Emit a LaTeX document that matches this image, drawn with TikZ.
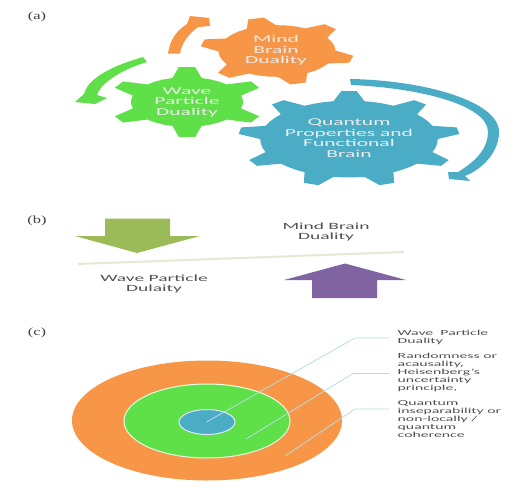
\documentclass[tikz,border=0pt]{standalone}
\usepackage{fontspec}
\setmainfont{Carlito}[FakeStretch=2.05]
\newfontfamily\tagfont{Liberation Serif}[FakeStretch=1.5]
\definecolor{gorange}{HTML}{F79646}
\definecolor{ggreen}{HTML}{5FDF48}
\definecolor{gblue}{HTML}{4BACC6}
\definecolor{aolive}{HTML}{9BBB59}
\definecolor{apurple}{HTML}{8064A2}
\definecolor{bar}{HTML}{E2EBD2}
\definecolor{leader}{HTML}{B9DCE4}
\definecolor{tgrey}{HTML}{505050}
\newcommand{\tightlines}{\lineskiplimit -20pt\relax}
\newcommand{\gear}[8]{% colour,cx,cy,rxo,ryo,rootfrac,teeth,rot
 \pgfmathsetmacro{\st}{360/#7}
 \pgfmathsetmacro{\rxi}{#4*#6}\pgfmathsetmacro{\ryi}{#5*#6}
 \fill[#1] ({#2+\rxi*cos(#8-0.25*\st)},{#3-\ryi*sin(#8-0.25*\st)})
 foreach \k in {1,...,#7}{
  -- ({#2+#4*cos(#8+(\k-1)*\st-0.1*\st)},{#3-#5*sin(#8+(\k-1)*\st-0.1*\st)})
  -- ({#2+#4*cos(#8+(\k-1)*\st+0.1*\st)},{#3-#5*sin(#8+(\k-1)*\st+0.1*\st)})
  -- ({#2+\rxi*cos(#8+(\k-1)*\st+0.25*\st)},{#3-\ryi*sin(#8+(\k-1)*\st+0.25*\st)})
  -- ({#2+\rxi*cos(#8+(\k-1)*\st+0.42*\st)},{#3-\ryi*sin(#8+(\k-1)*\st+0.42*\st)})
  -- ({#2+\rxi*cos(#8+(\k-1)*\st+0.58*\st)},{#3-\ryi*sin(#8+(\k-1)*\st+0.58*\st)})
  -- ({#2+\rxi*cos(#8+\k*\st-0.25*\st)},{#3-\ryi*sin(#8+\k*\st-0.25*\st)})
 } -- cycle;
}
\tikzset{
 gearlabel/.style={text=white!85!gray,align=center,inner sep=0pt,font=\fontsize{10.5}{10.5}\selectfont\tightlines},
 tag/.style={text=black!75,inner sep=0pt,font=\tagfont\fontsize{11}{11}\selectfont},
 blab/.style={text=tgrey,align=center,inner sep=0pt,font=\fontsize{9.5}{10}\selectfont\tightlines},
 clab/.style={text=tgrey,align=left,anchor=north west,inner sep=0pt,font=\fontsize{7.7}{8}\selectfont\tightlines},
 leadline/.style={draw=leader,line width=.8pt}
}
\begin{document}
\begin{tikzpicture}[x=1pt,y=-1pt]
\useasboundingbox (0,0) rectangle (531,490);
% (a) arrows
\fill[gorange] (168,53.5) .. controls (170,40) and (176,31) .. (187,24) -- (190,16) -- (209,18) -- (210,26) -- (198,27) .. controls (189,34) and (182,42) .. (180,53.5) -- cycle;
\fill[ggreen] (143,57) .. controls (112,66) and (88,78) .. (84,94) -- (75,102) -- (95,104) -- (107,98) -- (97,95) .. controls (100,84) and (120,70) .. (147,62) -- cycle;
\fill[gblue] (350,79) .. controls (420,80) and (499,100) .. (499,132) .. controls (499,150) and (485,168) .. (465,176) -- (470,181) -- (449,179) -- (448,172) -- (458,172) .. controls (478,160) and (488,147) .. (488,132) .. controls (488,105) and (420,88) .. (351,85) -- cycle;
% gears
\gear{gorange}{277}{51}{77}{34}{0.76}{6}{106}
\gear{ggreen}{187}{102}{79}{35}{0.71}{6}{90}
\gear{gblue}{349}{139}{111}{48}{0.8}{9}{90}
\node[gearlabel] (mind) at (276,50.5) {Mind\\Brain\\Duality};
\node[gearlabel] (wave) at (187,102) {Wave\\Particle\\Duality};
\node[gearlabel] (quant) at (349,138) {Quantum\\Properties and\\Functional\\Brain};
\node[tag] (ta) at (37,17) {(a)};
\node[tag] (tb) at (37,221) {(b)};
\node[tag] (tc) at (37,333) {(c)};
% (b)
\fill[aolive] (105,218.5) -- (170,218.5) -- (170,236) -- (200,236) -- (137,253) -- (75,236) -- (105,236) -- cycle;
\fill[apurple] (312,298) -- (377,298) -- (377,280) -- (406,280) -- (345,263.5) -- (284,280) -- (312,280) -- cycle;
\draw[bar,line width=2pt] (78,264) -- (404,252);
\node[blab] (mb) at (326,232) {Mind Brain\\Duality};
\node[blab] (wp) at (154,284) {Wave Particle\\Dulaity};
% (c)
\fill[gorange] (207,420.5) ellipse [x radius=135, y radius=60];
\fill[ggreen,draw=white!90!green,line width=1pt] (207,421) ellipse [x radius=83, y radius=37];
\fill[gblue,draw=white!90!blue,line width=1pt] (207,422) ellipse [x radius=28, y radius=12.5];
\coordinate (p1) at (206.5,422);
\coordinate (p2) at (246,439);
\coordinate (p3) at (285,456);
\coordinate (k1) at (355,338);
\coordinate (k2) at (353,373.5);
\coordinate (k3) at (355,409);
\coordinate (e1) at (389,338);
\coordinate (e2) at (389,373.5);
\coordinate (e3) at (389,409);
\draw[leadline] (p1) -- (k1) -- (e1);
\draw[leadline] (p2) -- (k2) -- (e2);
\draw[leadline] (p3) -- (k3) -- (e3);
\node[clab] (c1) at (397.5,329.5) {Wave\ \ Particle\\Duality};
\node[clab] (c2) at (397.5,353) {Randomness or\\acausality,\\Heisenberg's\\uncertainty\\principle,};
\node[clab] (c3) at (397.5,400) {Quantum\\inseparability or\\non-locally /\\quantum\\coherence};
\end{tikzpicture}
\end{document}
